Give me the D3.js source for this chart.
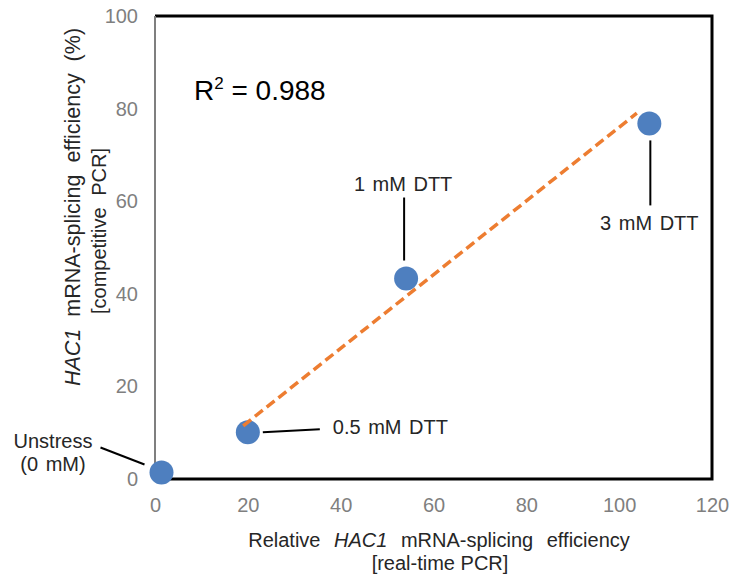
<!DOCTYPE html>
<html>
<head>
<meta charset="utf-8">
<script src="https://cdn.jsdelivr.net/npm/d3@7"></script>
<style>
	body { margin: 0; background: #fff; }
	svg text { font-family: "Liberation Sans", Arial, sans-serif; }
</style>
</head>
<body>
<div id="chart"></div>
<script>
// data
const labels = ['Unstress', '0.5 mM DTT', '1 mM DTT', '3 mM DTT'];
const xVals = [1.4, 20.0, 54.1, 106.5];
const yVals = [1.4, 10.1, 43.3, 76.8];
const xTicks = [0, 20, 40, 60, 80, 100, 120];
const yTicks = [0, 20, 40, 60, 80, 100];
// dashed trend line, ends as drawn in the figure
const trendX = [19.0, 103.8];
const trendY = [11.5, 79.0];
const r2Text = ' = 0.988';

const width = 731, height = 579;
const margin = { top: 16, right: 19, bottom: 100, left: 155 };
const font = '"Liberation Sans", Arial, sans-serif';

const svg = d3.select('#chart').append('svg')
	.attr('width', width)
	.attr('height', height);

const x = d3.scaleLinear().domain([0, 120]).range([margin.left, width - margin.right]);
const y = d3.scaleLinear().domain([0, 100]).range([height - margin.bottom, margin.top]);

// plot box: black top/right/bottom, grey left
svg.append('path')
	.attr('d', `M${x(0)},${y(100)}H${x(120)}V${y(0)}H${x(0)}`)
	.attr('fill', 'none')
	.attr('stroke', '#000')
	.attr('stroke-width', 3);
svg.append('line')
	.attr('x1', x(0)).attr('x2', x(0))
	.attr('y1', y(100)).attr('y2', y(0))
	.attr('stroke', '#7f7f7f')
	.attr('stroke-width', 2);

// tick labels
const xAxis = svg.append('g')
	.attr('transform', `translate(0, ${y(0) + 7})`)
	.call(d3.axisBottom(x).tickValues(xTicks).tickSize(0).tickPadding(12));
xAxis.select('.domain').remove();
xAxis.selectAll('text').attr('font-size', 20).attr('fill', '#7f7f7f').attr('font-family', font);

const yAxis = svg.append('g')
	.attr('transform', `translate(${x(0) - 17}, 0)`)
	.call(d3.axisLeft(y).tickValues(yTicks).tickSize(0).tickPadding(0));
yAxis.select('.domain').remove();
yAxis.selectAll('text').attr('font-size', 20).attr('fill', '#7f7f7f').attr('font-family', font);

// points
svg.append('g').selectAll('circle')
	.data(xVals)
	.join('circle')
	.attr('cx', d => x(d))
	.attr('cy', (d, i) => y(yVals[i]))
	.attr('r', 12)
	.attr('fill', '#4e7fbf');

// trend line
svg.append('line')
	.attr('x1', x(trendX[0])).attr('y1', y(trendY[0]))
	.attr('x2', x(trendX[1])).attr('y2', y(trendY[1]))
	.attr('stroke', '#ed7d31')
	.attr('stroke-width', 3.5)
	.attr('stroke-dasharray', '10,5');

// leader lines and labels
const lead = svg.append('g').attr('stroke', '#000').attr('stroke-width', 2);
const ann = svg.append('g').attr('font-size', 20).attr('fill', '#262626').attr('word-spacing', 2);

// Unstress
lead.append('line').attr('x1', x(xVals[0]) - 17).attr('y1', y(yVals[0]) - 8)
	.attr('x2', x(xVals[0]) - 61).attr('y2', y(yVals[0]) - 25);
ann.append('text').attr('x', 53).attr('y', 448).attr('text-anchor', 'middle').text(labels[0]);
ann.append('text').attr('x', 53).attr('y', 471).attr('text-anchor', 'middle').text('(0 mM)');

// 0.5 mM
lead.append('line').attr('x1', x(xVals[1]) + 15).attr('y1', y(yVals[1]))
	.attr('x2', x(xVals[1]) + 72).attr('y2', y(yVals[1]) - 3);
ann.append('text').attr('x', x(xVals[1]) + 85).attr('y', y(yVals[1]) + 2).text(labels[1]);

// 1 mM
lead.append('line').attr('x1', x(xVals[2]) - 2).attr('y1', y(yVals[2]) - 18)
	.attr('x2', x(xVals[2]) - 2).attr('y2', y(yVals[2]) - 81);
ann.append('text').attr('x', x(xVals[2]) - 3).attr('y', y(yVals[2]) - 88)
	.attr('text-anchor', 'middle').text(labels[2]);

// 3 mM
lead.append('line').attr('x1', x(xVals[3]) + 1).attr('y1', y(yVals[3]) + 17)
	.attr('x2', x(xVals[3]) + 1).attr('y2', y(yVals[3]) + 82);
ann.append('text').attr('x', x(xVals[3])).attr('y', y(yVals[3]) + 107)
	.attr('text-anchor', 'middle').text(labels[3]);

// R squared
const rt = svg.append('text').attr('x', 194).attr('y', 100)
	.attr('font-size', 28).attr('fill', '#000');
rt.append('tspan').text('R');
rt.append('tspan').attr('font-size', 17).attr('dy', -11).text('2');
rt.append('tspan').attr('dy', 11).text(r2Text);

// axis titles
const xt = svg.append('text').attr('x', 439).attr('y', 547)
	.attr('text-anchor', 'middle').attr('font-size', 20).attr('fill', '#262626')
	.attr('word-spacing', 8);
xt.append('tspan').text('Relative ');
xt.append('tspan').attr('font-style', 'italic').text('HAC1');
xt.append('tspan').text(' mRNA-splicing efficiency');
svg.append('text').attr('x', 440).attr('y', 570)
	.attr('text-anchor', 'middle').attr('font-size', 20).attr('fill', '#262626')
	.text('[real-time PCR]');

const yt = svg.append('text')
	.attr('transform', 'translate(80, 207) rotate(-90)')
	.attr('text-anchor', 'middle').attr('font-size', 21.5).attr('fill', '#262626')
	.attr('word-spacing', 6);
yt.append('tspan').attr('font-style', 'italic').text('HAC1');
yt.append('tspan').text(' mRNA-splicing efficiency (%)');
svg.append('text')
	.attr('transform', 'translate(106, 231) rotate(-90)')
	.attr('text-anchor', 'middle').attr('font-size', 20).attr('fill', '#262626')
	.attr('word-spacing', 6)
	.text('[competitive PCR]');
</script>
</body>
</html>
